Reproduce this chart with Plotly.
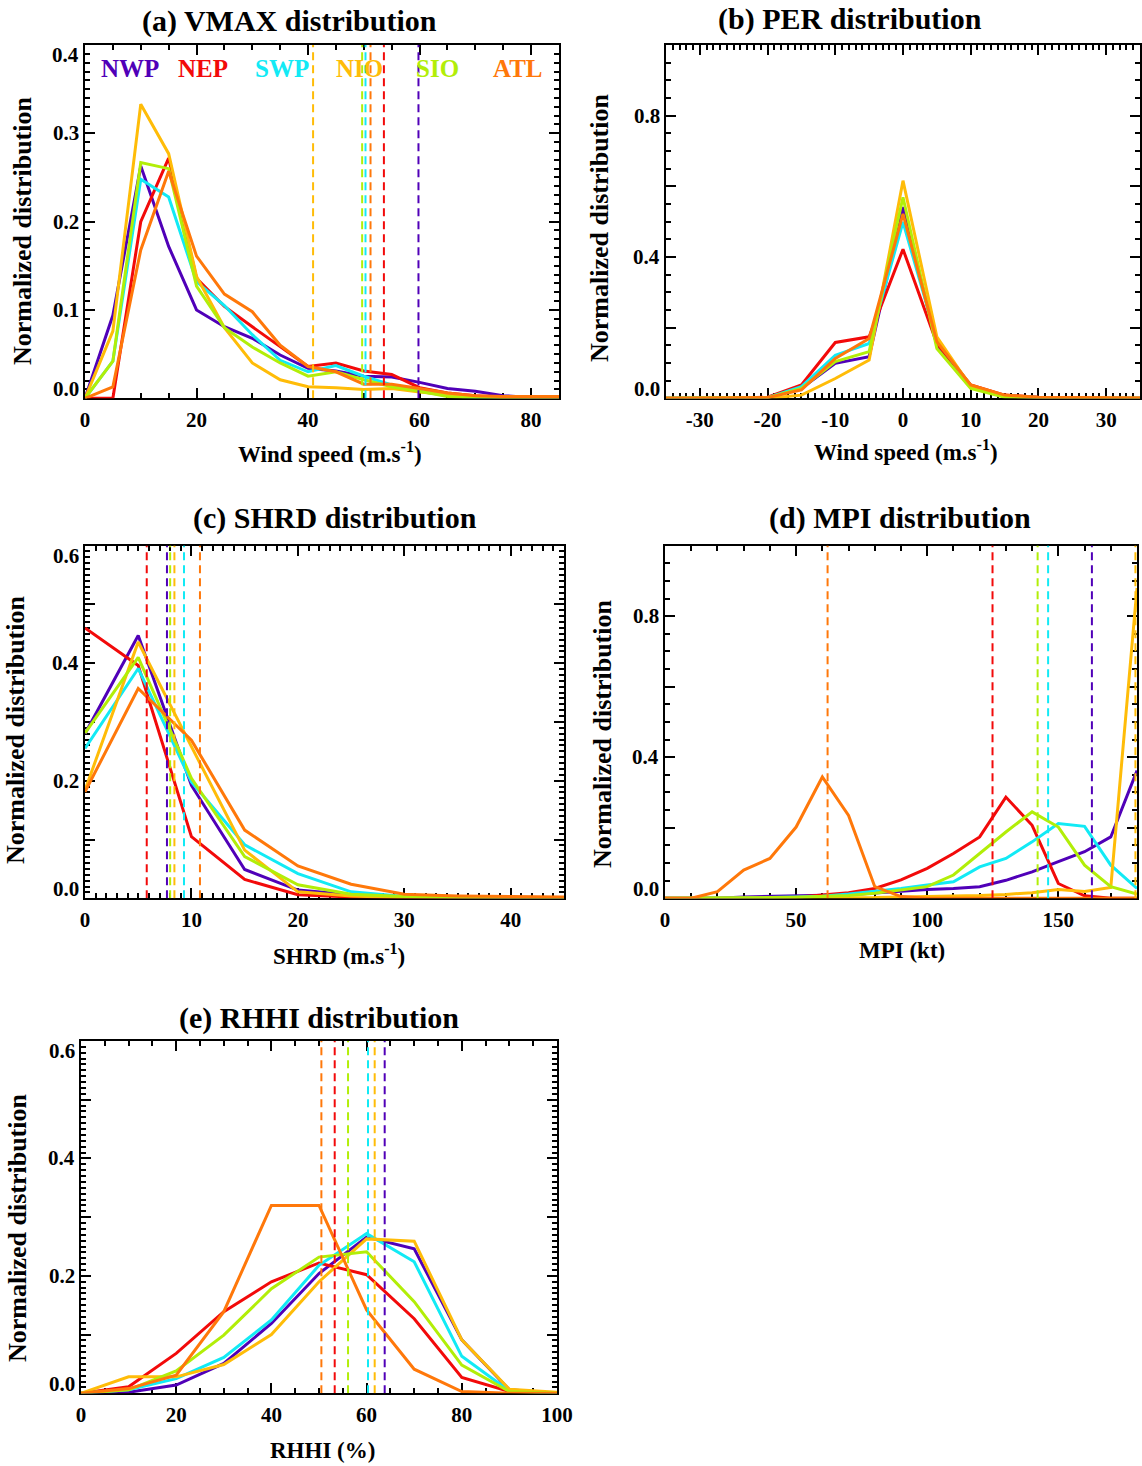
import plotly.graph_objects as go

W, H = 1142, 1466
FONT = "Liberation Serif"

REGIONS = ["NWP", "NEP", "SWP", "NIO", "SIO", "ATL"]
COLORS = ["#5000B8", "#F20A0A", "#12EAF5", "#FFBC08", "#B2EE08", "#FF780A"]

# (a) VMAX distribution
vmax_bins = [0, 5, 10, 15, 20, 25, 30, 35, 40, 45, 50, 55, 60, 65, 70, 75, 80, 85]
vmax_nwp = [0, 0.094, 0.263, 0.172, 0.100, 0.081, 0.068, 0.049, 0.034, 0.031, 0.025, 0.024, 0.018, 0.011, 0.008, 0.003, 0.001, 0.001]
vmax_nep = [0, 0, 0.200, 0.272, 0.136, 0.104, 0.081, 0.058, 0.036, 0.040, 0.031, 0.027, 0.012, 0.006, 0.003, 0.001, 0.001, 0.001]
vmax_swp = [0, 0.042, 0.248, 0.228, 0.132, 0.105, 0.072, 0.043, 0.030, 0.037, 0.025, 0.015, 0.008, 0.003, 0.001, 0, 0, 0]
vmax_nio = [0, 0.076, 0.333, 0.277, 0.138, 0.080, 0.040, 0.021, 0.013, 0.012, 0.010, 0.011, 0.007, 0.004, 0.002, 0.001, 0.001, 0.001]
vmax_sio = [0, 0.042, 0.267, 0.260, 0.127, 0.080, 0.058, 0.040, 0.025, 0.030, 0.021, 0.013, 0.008, 0.002, 0, 0, 0, 0]
vmax_atl = [0, 0.013, 0.168, 0.257, 0.161, 0.118, 0.098, 0.060, 0.036, 0.030, 0.016, 0.016, 0.011, 0.006, 0.003, 0.002, 0.002, 0.002]
vmax_marks = [59.8, 53.6, 50.3, 40.9, 49.7, 51.2]
vmax_ticks = [0, 20, 40, 60, 80]

# (b) PER distribution
per_bins = [-35, -30, -25, -20, -15, -10, -5, 0, 5, 10, 15, 20, 25, 30, 35]
per_nwp = [0, 0, 0, 0.002, 0.028, 0.099, 0.118, 0.541, 0.151, 0.033, 0.007, 0.002, 0, 0, 0]
per_nep = [0, 0, 0, 0.003, 0.038, 0.158, 0.174, 0.422, 0.155, 0.038, 0.009, 0.003, 0.001, 0, 0]
per_swp = [0, 0, 0, 0.002, 0.033, 0.122, 0.155, 0.499, 0.165, 0.035, 0.007, 0.002, 0, 0, 0]
per_nio = [0, 0, 0, 0, 0.009, 0.056, 0.108, 0.616, 0.174, 0.033, 0.005, 0.001, 0, 0, 0]
per_sio = [0, 0, 0, 0.002, 0.028, 0.104, 0.132, 0.569, 0.141, 0.028, 0.003, 0.001, 0, 0, 0]
per_atl = [0, 0, 0, 0.002, 0.024, 0.113, 0.169, 0.522, 0.160, 0.038, 0.009, 0.003, 0.002, 0.002, 0.001]
per_ticks = [-30, -20, -10, 0, 10, 20, 30]

# (c) SHRD distribution
shrd_bins = [0, 5, 10, 15, 20, 25, 30, 35, 40, 45]
shrd_nwp = [0.280, 0.447, 0.192, 0.049, 0.014, 0.006, 0.002, 0.001, 0, 0]
shrd_nep = [0.460, 0.396, 0.105, 0.032, 0.006, 0.002, 0.001, 0, 0, 0]
shrd_swp = [0.255, 0.391, 0.198, 0.091, 0.042, 0.011, 0.003, 0.002, 0.001, 0.001]
shrd_nio = [0.184, 0.436, 0.258, 0.082, 0.011, 0.004, 0.001, 0, 0, 0]
shrd_sio = [0.281, 0.410, 0.204, 0.071, 0.023, 0.007, 0.003, 0.001, 0, 0]
shrd_atl = [0.181, 0.357, 0.269, 0.116, 0.055, 0.024, 0.007, 0.004, 0.003, 0.002]
shrd_marks = [7.7, 5.8, 9.3, 8.4, 8.0, 10.8]
shrd_ticks = [0, 10, 20, 30, 40]

# (d) MPI distribution
mpi_bins = [0, 10, 20, 30, 40, 50, 60, 70, 80, 90, 100, 110, 120, 130, 140, 150, 160, 170, 180]
mpi_nwp = [0, 0, 0, 0.004, 0.005, 0.006, 0.007, 0.010, 0.015, 0.021, 0.025, 0.028, 0.033, 0.051, 0.075, 0.104, 0.132, 0.174, 0.362]
mpi_nep = [0, 0, 0, 0, 0, 0.003, 0.010, 0.016, 0.028, 0.052, 0.085, 0.127, 0.174, 0.287, 0.207, 0.042, 0.007, 0, 0]
mpi_swp = [0, 0, 0, 0, 0.002, 0.004, 0.006, 0.012, 0.019, 0.028, 0.038, 0.047, 0.089, 0.113, 0.160, 0.212, 0.204, 0.094, 0.028]
mpi_nio = [0, 0, 0, 0, 0, 0, 0, 0, 0.002, 0.004, 0.005, 0.007, 0.008, 0.011, 0.016, 0.025, 0.019, 0.031, 0.880]
mpi_sio = [0, 0, 0, 0, 0.002, 0.003, 0.005, 0.008, 0.014, 0.024, 0.033, 0.066, 0.127, 0.188, 0.245, 0.202, 0.094, 0.033, 0.012]
mpi_atl = [0, 0, 0.019, 0.080, 0.113, 0.202, 0.344, 0.235, 0.033, 0.005, 0, 0, 0, 0, 0, 0, 0, 0, 0]
mpi_marks = [162.8, 124.9, 146.1, 179.4, 142.1, 62.0]
mpi_ticks = [0, 50, 100, 150]

# (e) RHHI distribution
rhhi_bins = [0, 10, 20, 30, 40, 50, 60, 70, 80, 90, 100]
rhhi_nwp = [0, 0.002, 0.014, 0.051, 0.119, 0.204, 0.266, 0.246, 0.091, 0.006, 0]
rhhi_nep = [0, 0.011, 0.068, 0.139, 0.190, 0.222, 0.202, 0.127, 0.027, 0.003, 0]
rhhi_swp = [0, 0.006, 0.025, 0.061, 0.125, 0.218, 0.272, 0.224, 0.063, 0.004, 0]
rhhi_nio = [0, 0.028, 0.028, 0.049, 0.100, 0.190, 0.263, 0.259, 0.091, 0.007, 0.002]
rhhi_sio = [0, 0.006, 0.038, 0.099, 0.178, 0.232, 0.241, 0.156, 0.048, 0.003, 0]
rhhi_atl = [0, 0.008, 0.031, 0.139, 0.320, 0.320, 0.142, 0.041, 0.003, 0, 0]
rhhi_marks = [63.8, 53.3, 60.3, 61.7, 56.1, 50.5]
rhhi_ticks = [0, 20, 40, 60, 80, 100]

panels = [
    dict(box=(85, 559, 45, 398.3), xr=[0, 85], yr=[0, 0.4], xticks=vmax_ticks, xminor=5,
         ymajor=0.1, yminor=0.01, ylabels=[0, 0.1, 0.2, 0.3, 0.4],
         bins=vmax_bins, series=[vmax_nwp, vmax_nep, vmax_swp, vmax_nio, vmax_sio, vmax_atl],
         marks=vmax_marks, title="(a) VMAX distribution", title_xy=(289, 21),
         xtitle="Wind speed (m.s<sup>-1</sup>)", xtitle_xy=(330, 453), ytitle_xy=(22, 231)),
    dict(box=(666, 1140, 45, 398.3), xr=[-35, 35], yr=[0, 1.0], xticks=per_ticks, xminor=1,
         ymajor=0.2, yminor=0.05, ylabels=[0, 0.4, 0.8],
         bins=per_bins, series=[per_nwp, per_nep, per_swp, per_nio, per_sio, per_atl],
         marks=None, title="(b) PER distribution", title_xy=(850, 19),
         xtitle="Wind speed (m.s<sup>-1</sup>)", xtitle_xy=(906, 451), ytitle_xy=(600, 228)),
    dict(box=(85, 564, 545.6, 898.3), xr=[0, 45], yr=[0, 0.6], xticks=shrd_ticks, xminor=1,
         ymajor=0.1, yminor=0.01, ylabels=[0, 0.2, 0.4, 0.6],
         bins=shrd_bins, series=[shrd_nwp, shrd_nep, shrd_swp, shrd_nio, shrd_sio, shrd_atl],
         marks=shrd_marks, title="(c) SHRD distribution", title_xy=(335, 518),
         xtitle="SHRD (m.s<sup>-1</sup>)", xtitle_xy=(339, 955), ytitle_xy=(15, 730)),
    dict(box=(665, 1137, 545.6, 898.3), xr=[0, 180], yr=[0, 1.0], xticks=mpi_ticks, xminor=10,
         ymajor=0.2, yminor=0.05, ylabels=[0, 0.4, 0.8],
         bins=mpi_bins, series=[mpi_nwp, mpi_nep, mpi_swp, mpi_nio, mpi_sio, mpi_atl],
         marks=mpi_marks, title="(d) MPI distribution", title_xy=(900, 518),
         xtitle="MPI (kt)", xtitle_xy=(902, 950), ytitle_xy=(602, 734)),
    dict(box=(81, 557, 1041, 1393.3), xr=[0, 100], yr=[0, 0.6], xticks=rhhi_ticks, xminor=5,
         ymajor=0.1, yminor=0.01, ylabels=[0, 0.2, 0.4, 0.6],
         bins=rhhi_bins, series=[rhhi_nwp, rhhi_nep, rhhi_swp, rhhi_nio, rhhi_sio, rhhi_atl],
         marks=rhhi_marks, title="(e) RHHI distribution", title_xy=(319, 1018),
         xtitle="RHHI (%)", xtitle_xy=(322, 1450), ytitle_xy=(17, 1228)),
]

# region names written across the top of panel (a)
legend_xy = [(130, 68), (203, 68), (282, 68), (360, 68), (437, 68), (518, 68)]


def bold(size):
    return dict(family=FONT, size=size, color="black", weight="bold")


def minor_positions(lo, hi, step, majors):
    """Minor tick positions over [lo, hi], skipping the labelled ones."""
    out = []
    k = 0
    while lo + k * step <= hi + 1e-9:
        v = round(lo + k * step, 6)
        if all(abs(v - m) > 1e-9 for m in majors):
            out.append(v)
        k += 1
    return out


fig = go.Figure()
annotations = []
layout = {}

for i, p in enumerate(panels):
    n = "" if i == 0 else str(i + 1)
    xref, yref = "x" + n, "y" + n
    x0, x1, y0, y1 = p["box"]

    axis_common = dict(
        showline=True, linecolor="black", linewidth=2, mirror="allticks",
        ticks="inside", tickcolor="black", tickwidth=2, ticklen=10,
        showgrid=False, zeroline=False, layer="below traces", automargin=False,
    )
    xr = p["xr"]
    xminor_start = xr[0] - (xr[0] % p["xminor"])
    layout["xaxis" + n] = dict(
        axis_common, anchor=yref, domain=[x0 / W, x1 / W], range=xr,
        tickmode="array", tickvals=p["xticks"], ticktext=[str(t) for t in p["xticks"]],
        tickfont=bold(21), ticklabelstandoff=1,
        minor=dict(ticks="inside", tickmode="array",
                   tickvals=minor_positions(xminor_start, xr[1], p["xminor"], p["xticks"]),
                   ticklen=5, tickwidth=1.5, tickcolor="black", showgrid=False),
    )
    layout["yaxis" + n] = dict(
        axis_common, anchor=xref, domain=[1 - y1 / H, 1 - y0 / H], range=p["yr"],
        tick0=0, dtick=p["ymajor"], showticklabels=False,
        minor=dict(ticks="inside", dtick=p["yminor"], ticklen=5, tickwidth=1.5,
                   tickcolor="black", showgrid=False),
    )

    # distribution curves
    for name, color, vals in zip(REGIONS, COLORS, p["series"]):
        fig.add_trace(go.Scatter(
            x=p["bins"], y=vals, mode="lines", name=name, showlegend=False,
            line=dict(color=color, width=3), xaxis=xref, yaxis=yref,
        ))

    # dashed vertical markers
    if p["marks"] is not None:
        for name, color, v in zip(REGIONS, COLORS, p["marks"]):
            fig.add_trace(go.Scatter(
                x=[v, v], y=p["yr"], mode="lines", showlegend=False,
                line=dict(color=color, width=2, dash="8px,5px"),
                xaxis=xref, yaxis=yref, hoverinfo="skip",
            ))

    # y tick labels (end labels kept inside the frame)
    for v in p["ylabels"]:
        shift = 0
        if v == p["yr"][0]:
            ya, shift = "bottom", -5
        elif v == p["yr"][1]:
            ya, shift = "top", 4
        else:
            ya = "middle"
        annotations.append(dict(
            text=f"{v:.1f}", xref=xref + " domain", x=0, xanchor="right", xshift=-4,
            yref=yref, y=v, yanchor=ya, yshift=shift, showarrow=False, font=bold(21),
        ))

    tx, ty = p["title_xy"]
    annotations.append(dict(text=p["title"], xref="paper", yref="paper",
                            x=tx / W, y=1 - ty / H, xanchor="center", yanchor="middle",
                            showarrow=False, font=bold(30)))
    ax_, ay_ = p["xtitle_xy"]
    annotations.append(dict(text=p["xtitle"], xref="paper", yref="paper",
                            x=ax_ / W, y=1 - ay_ / H, xanchor="center", yanchor="middle",
                            showarrow=False, font=bold(23)))
    yx, yy = p["ytitle_xy"]
    annotations.append(dict(text="Normalized distribution", xref="paper", yref="paper",
                            x=yx / W, y=1 - yy / H, xanchor="center", yanchor="middle",
                            textangle=-90, showarrow=False, font=bold(26)))

for name, color, (lx, ly) in zip(REGIONS, COLORS, legend_xy):
    annotations.append(dict(text=name, xref="paper", yref="paper",
                            x=lx / W, y=1 - ly / H, xanchor="center", yanchor="middle",
                            showarrow=False,
                            font=dict(family=FONT, size=25, color=color, weight="bold")))

fig.update_layout(
    width=W, height=H, autosize=False,
    margin=dict(l=0, r=0, t=0, b=0, pad=0, autoexpand=False),
    paper_bgcolor="white", plot_bgcolor="white",
    showlegend=False, annotations=annotations, **layout,
)

fig.write_html("out.html", config={"responsive": False})
